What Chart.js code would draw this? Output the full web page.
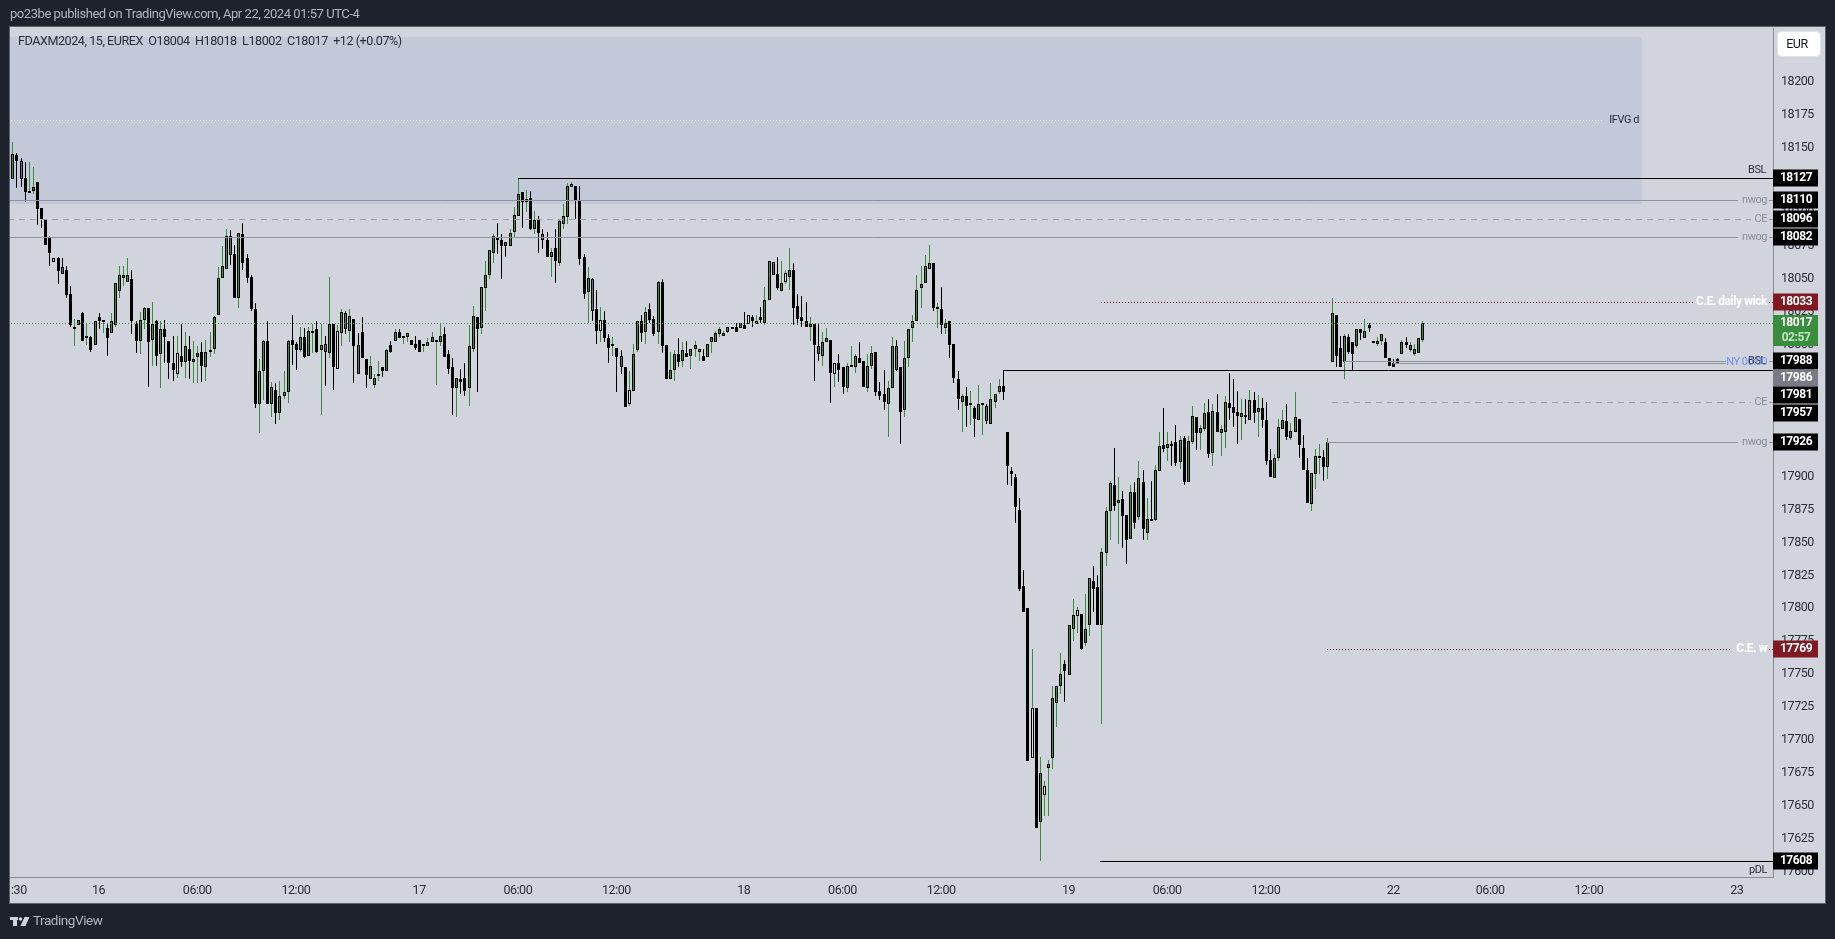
<!DOCTYPE html>
<html>
<head>
<meta charset="utf-8">
<title>FDAXM2024</title>
<style>
  html, body { margin: 0; padding: 0; background: #1e222d; overflow: hidden; }
  canvas { display: block; }
</style>
<script src="https://cdn.jsdelivr.net/npm/chart.js@4"></script>
</head>
<body>
<canvas id="priceChart" width="1835" height="939"></canvas>
<script>
// 15 minute candles
const opens = [
  18126,18144,18140,18127,18116,18117,18124,18104,18095,18082,18063,18066,18059,18057,18039,18013,18015,18024,18006,18006,
  18000,18021,18018,18013,18009,18015,18041,18051,18048,18050,18016,18003,18019,18028,18004,18018,17993,18012,18003,17986,
  17978,17992,17987,17997,17987,17991,17995,17983,17995,17997,18023,18051,18058,18083,18069,18036,18084,18066,18052,18027,
  17955,17980,18003,17955,17966,17948,17961,17964,18004,18001,17996,18006,17992,18010,18012,17996,18001,17994,18016,17982,
  18009,18024,18011,18020,18000,18010,17989,17974,17970,17977,17983,17980,18000,18003,18010,18005,18006,18004,18001,18004,
  18000,17999,18002,18002,18002,18008,17993,17983,17967,17974,17975,17967,17997,18021,18013,18043,18053,18070,18082,18080,
  18078,18075,18086,18098,18116,18109,18112,18088,18095,18084,18080,18067,18074,18062,18092,18097,18120,18121,18110,18067,
  18040,18050,18027,18011,18019,18005,18000,17998,17992,17983,17955,17965,17996,18018,18010,18027,18020,18010,18048,18000,
  17974,17981,17993,17988,17994,17992,17997,17995,17992,17991,18002,18002,18008,18007,18010,18014,18014,18013,18015,18016,
  18021,18016,18021,18017,18034,18063,18054,18041,18048,18052,18057,18030,18021,18018,18014,18016,17999,17992,18002,18004,
  17978,17986,17983,17967,17983,17983,17990,17988,17967,17984,17995,17965,17963,17955,17967,17999,17983,17951,17990,18013,
  18018,18043,18047,18058,18062,18028,18027,18013,18018,18001,17974,17957,17961,17955,17952,17943,17955,17954,17940,17957,
  17964,17969,17934,17904,17900,17875,17817,17800,17686,17724,17638,17658,17679,17686,17728,17741,17758,17749,17784,17794,
  17796,17774,17787,17821,17816,17787,17842,17874,17894,17880,17883,17871,17853,17888,17869,17896,17857,17868,17867,17904,
  17924,17922,17925,17926,17911,17929,17896,17926,17945,17933,17936,17949,17918,17949,17933,17934,17956,17953,17949,17945,
  17947,17943,17958,17949,17952,17943,17913,17899,17914,17936,17942,17929,17934,17944,17922,17905,17879,17902,17914,17915,
  17907,17987,18023,17998,17987,18006,18002,17999,18012,18005,18015,18003,18001,18003,18002,17990,17986,17989,17993,18002,
  17996,17993,17994,18004
];
const highs = [
  18154,18146,18142,18139,18139,18135,18124,18104,18095,18083,18066,18067,18066,18060,18045,18020,18019,18025,18016,18007,
  18018,18024,18019,18017,18024,18047,18060,18060,18066,18057,18018,18025,18029,18028,18033,18019,18018,18019,18003,18007,
  18007,18016,18010,18007,18003,17999,18002,18004,18010,18022,18059,18075,18088,18087,18076,18085,18093,18069,18053,18032,
  17989,18004,18018,17972,17971,17973,17980,18004,18023,18002,18014,18013,18014,18016,18018,18016,18007,18052,18016,18015,
  18027,18026,18027,18020,18009,18021,17989,17992,17978,17988,17983,17997,18003,18012,18012,18007,18009,18004,18007,18004,
  18001,18005,18010,18004,18017,18014,17996,17990,17975,17982,17986,18015,18030,18021,18044,18064,18072,18084,18093,18084,
  18078,18088,18105,18127,18116,18118,18117,18102,18098,18088,18086,18074,18088,18095,18107,18123,18124,18121,18121,18069,
  18059,18051,18042,18029,18026,18008,18006,17998,17996,17983,17980,18001,18018,18023,18029,18032,18022,18049,18050,18000,
  17995,17996,18005,18002,18003,17997,18003,17997,17997,18001,18006,18011,18014,18011,18014,18014,18017,18017,18025,18023,
  18023,18023,18029,18044,18064,18063,18067,18064,18057,18074,18062,18039,18037,18033,18021,18016,18017,18010,18013,18004,
  17986,17993,17983,17986,17999,17993,18002,17988,17993,17999,17995,17972,17981,17973,18006,18004,17983,18003,18012,18023,
  18053,18060,18068,18076,18062,18032,18044,18020,18018,18001,17980,17963,17968,17965,17954,17970,17956,17955,17971,17963,
  17974,17981,17934,17907,17902,17884,17829,17800,17769,17724,17687,17669,17685,17741,17741,17766,17761,17787,17807,17801,
  17796,17811,17823,17832,17825,17846,17877,17897,17922,17900,17889,17871,17894,17896,17912,17905,17884,17897,17909,17934,
  17952,17934,17927,17939,17931,17931,17931,17954,17945,17939,17956,17959,17955,17963,17939,17961,17979,17974,17965,17959,
  17959,17966,17964,17962,17960,17957,17921,17917,17944,17951,17955,17941,17964,17944,17932,17914,17903,17921,17925,17920,
  17929,18036,18023,18007,18008,18008,18002,18012,18012,18020,18017,18003,18006,18008,18005,17990,17989,17990,18004,18006,
  18002,18001,18005,18018
];
const lows = [
  18126,18119,18120,18109,18116,18115,18091,18089,18076,18060,18063,18046,18054,18036,18014,17999,18015,18003,18000,17995,
  18000,18012,18009,17992,18009,18014,18036,18045,18048,18008,17994,17993,18012,17968,17984,17984,17967,17986,17974,17973,
  17975,17983,17975,17974,17971,17971,17972,17973,17991,17993,18023,18051,18058,18061,18036,18028,18057,18047,18026,17952,
  17933,17958,17955,17945,17940,17943,17959,17956,17985,17981,17995,17990,17992,17994,17994,17947,17969,17990,17966,17982,
  17999,18008,18002,17971,17978,17990,17967,17974,17967,17973,17976,17980,17994,18003,18005,18001,18002,18000,17996,17995,
  17995,17999,18002,17970,17999,17991,17978,17947,17945,17963,17961,17954,17995,17964,18008,18026,18050,18062,18069,18050,
  18067,18075,18082,18098,18089,18101,18087,18084,18070,18073,18067,18052,18047,18060,18088,18092,18120,18096,18061,18035,
  18017,18018,18001,18002,18002,17986,17992,17964,17978,17953,17954,17965,17995,18002,18001,18017,18007,18001,17994,17974,
  17974,17973,17983,17983,17991,17982,17991,17988,17988,17991,17994,18002,18006,18007,18009,18013,18010,18013,18012,18016,
  18014,18016,18017,18015,18034,18053,18042,18041,18046,18042,18015,18015,18014,18014,18003,17973,17988,17984,18002,17956,
  17968,17972,17963,17964,17983,17979,17986,17968,17964,17982,17961,17958,17951,17930,17967,17980,17925,17945,17983,18002,
  18018,18028,18047,18058,18026,18013,18008,18008,17990,17971,17951,17934,17938,17939,17930,17943,17932,17940,17940,17952,
  17963,17958,17894,17893,17865,17813,17797,17684,17686,17633,17608,17642,17642,17678,17710,17735,17729,17749,17775,17781,
  17768,17771,17779,17797,17787,17712,17832,17852,17874,17849,17846,17834,17853,17860,17867,17852,17852,17866,17866,17904,
  17919,17912,17908,17908,17906,17894,17896,17925,17920,17920,17935,17914,17908,17934,17916,17922,17943,17938,17925,17928,
  17940,17943,17941,17930,17937,17909,17900,17899,17912,17936,17928,17928,17934,17914,17905,17880,17874,17891,17902,17897,
  17898,17987,17983,17983,17974,17993,17981,17998,18004,18005,18010,18002,17999,18000,17990,17984,17983,17986,17993,17998,
  17995,17992,17994,18002
];
const closes = [
  18145,18140,18126,18116,18117,18120,18103,18096,18076,18070,18066,18056,18054,18038,18015,18014,18019,18003,18007,17996,
  18018,18018,18019,18005,18018,18047,18053,18053,18053,18018,18003,18019,18028,18002,18016,17992,18012,18006,17986,17981,
  17994,17987,17999,17988,17989,17994,17984,17995,17996,18021,18051,18060,18083,18068,18036,18085,18062,18051,18027,17955,
  17980,18003,17955,17968,17948,17961,17964,18003,18000,17996,18006,17991,18011,18011,17995,18000,17995,18016,17983,18011,
  18025,18012,18022,17999,17978,17990,17977,17984,17975,17978,17980,17996,17995,18010,18005,18007,18009,18000,17998,17995,
  18001,18002,18006,18004,18007,17991,17982,17967,17975,17972,17965,17999,18022,18012,18044,18053,18072,18083,18080,18075,
  18075,18085,18099,18115,18109,18111,18088,18095,18085,18080,18067,18071,18064,18094,18098,18121,18122,18110,18065,18039,
  18051,18026,18011,18019,18005,17998,18001,17991,17983,17953,17966,17993,18018,18009,18025,18019,18008,18048,17999,17974,
  17981,17993,17987,17996,17991,17997,18000,17997,17988,18001,18006,18009,18012,18009,18014,18013,18010,18017,18012,18023,
  18018,18018,18019,18034,18064,18053,18043,18047,18055,18057,18028,18020,18018,18014,18016,18000,17993,18002,18005,17979,
  17986,17981,17968,17984,17985,17992,17986,17968,17984,17994,17964,17961,17957,17967,17999,17981,17949,17990,18012,18018,
  18042,18046,18060,18062,18028,18029,18015,18017,18000,17975,17959,17961,17954,17956,17944,17955,17956,17942,17959,17963,
  17969,17964,17908,17902,17877,17815,17797,17684,17724,17633,17675,17665,17682,17732,17741,17750,17752,17787,17795,17799,
  17769,17784,17823,17815,17787,17843,17874,17895,17878,17882,17870,17852,17888,17865,17899,17860,17868,17866,17905,17923,
  17921,17925,17923,17910,17928,17896,17927,17946,17933,17937,17948,17917,17950,17934,17936,17957,17952,17948,17946,17948,
  17945,17958,17948,17952,17943,17912,17900,17914,17938,17943,17930,17935,17945,17924,17905,17880,17903,17916,17916,17907,
  17926,18024,17992,17983,18007,17995,17993,18012,18009,18011,18013,18002,18003,18008,17990,17984,17983,17986,18002,18000,
  18000,17997,18005,18017
];
const greyBars = [2,12,53,76,81,84,120,129,141,148,185,196,215,237];
const paleBars = [10,40,79,143,150,179,188,200,248,251,259];

const xTickSlots = [1.6,21,45,69,99,123,147,178,202,226,257,281,305,336,359.6,383.6,419.6];
const xTickLabels = [':30','16','06:00','12:00','17','06:00','12:00','18','06:00','12:00','19','06:00','12:00','22','06:00','12:00','23'];

// level lines drawn on the chart: price, first and last candle slot
const levelPrices = [18171,18127,18110,18096,18082,18033,18017,17988,17986,17981,17957,17926,17769,17608];
const levelStarts = [-1,123,-1,-1,-1,265,-1,324,336,241,321,320,320,264.6];
const levelEnds = [387,429,420,423,420,409,429,417,417,429,423,420,418,429];
const levelColors = ['#ffffff','#000000','#8f929e','#9a9da8','#8f929e','#801922','#388e3c','#8f929e','#8f929e','#000000','#9a9da8','#8f929e','#801922','#000000'];
const levelKinds = ['dot','solid','solid','dash','solid','dot','dot','solid','solid','solid','dash','solid','dot','solid'];
const levelTicks = [false,false,true,true,true,true,false,true,false,false,true,true,true,false];

const labelTexts = ['IFVG d','BSL','nwog','CE','nwog','C.E. daily wick','BSL','NY 00:00','CE','nwog','C.E. w','pDL'];
const labelPrices = [18171,18127,18110,18096,18082,18033,17988,17986,17957,17926,17769,17608];
const labelRight = [1639,1766,1767,1767,1767,1767,1766,1767,1767,1767,1767,1767];
const labelShift = [0,-8,0,0,0,0,0,-1,0,0,0,9];
const labelColors = ['#2a2e39','#2a2e39','#8a8d99','#8a8d99','#8a8d99','#ffffff','#2a2e39','#6f8ff0','#8a8d99','#8a8d99','#ffffff','#2a2e39'];

// price boxes on the right axis, some are pushed down so they do not overlap
const boxPrices = [18127,18110,18096,18082,18033,17988,17986,17981,17957,17926,17769,17608];
const boxShift = [0,0,0,0,0,0,15,25,11,0,0,0];
const boxColors = ['#000000','#000000','#000000','#000000','#801922','#000000','#787b86','#000000','#000000','#000000','#801922','#000000'];

const lastPrice = 18017;
const countdown = '02:57';
const zoneHigh = 18234;
const zoneLow = 18107;
const zoneEnd = 396.5;

const TITLE = 'po23be published on TradingView.com, Apr 22, 2024 01:57 UTC-4';
const LEGEND = 'FDAXM2024, 15, EUREX  O18004  H18018  L18002  C18017  +12 (+0.07%)';
const GREEN = '#388e3c';
const PANEL = '#d1d4dc';
const FONT = 'Roboto, sans-serif';

const slotOf = (list) => list.map((value, i) => ({ x: i, y: value }));

const wickData = slotOf(highs).map((p, i) => ({ x: i, y: [lows[i], highs[i]] }));
const bodyData = slotOf(opens).map((p, i) => ({ x: i, y: [opens[i], closes[i]] }));

const isUp = (i) => closes[i] >= opens[i];

const bodyColor = (i) => {
    if (greyBars.includes(i)) return '#6b6e78';
    if (paleBars.includes(i)) return '#dfe3dc';
    return isUp(i) ? GREEN : '#000000';
};

const dashFor = (kind) => {
    if (kind === 'dot') return [1, 2];
    if (kind === 'dash') return [6, 5];
    return [];
};

const levelDatasets = levelPrices.map((price, i) => {
    const points = [{ x: levelStarts[i], y: price }, { x: levelEnds[i], y: price }];
    if (levelTicks[i]) {
        points.push({ x: levelEnds[i] + 0.5, y: null }, { x: 427.4, y: price }, { x: 429, y: price });
    }
    return {
        type: 'line',
        data: points,
        borderColor: levelColors[i],
        borderWidth: 1,
        borderDash: dashFor(levelKinds[i]),
        pointRadius: 0,
        spanGaps: false,
        order: 1
    };
});

// snaps candles and lines to whole pixels, the way the original is drawn
const pixelSnap = {
    id: 'pixelSnap',
    afterDatasetsUpdate(chart) {
        chart.data.datasets.forEach((set, d) => {
            const meta = chart.getDatasetMeta(d);
            meta.data.forEach((el) => {
                if (set.type === 'line') {
                    el.x = Math.round(el.x);
                    el.y = Math.round(el.y) + 0.5;
                    return;
                }
                el.x = Math.round(el.x) + 0.5;
                el.y = Math.round(el.y);
                el.base = Math.round(el.base);
                if (d === 1 && Math.abs(el.y - el.base) < 2) el.base = el.y + 2;
                if (d === 0 && Math.abs(el.y - el.base) < 1) el.base = el.y + 1;
            });
        });
    }
};

const drawLogo = (ctx) => {
    ctx.fillStyle = '#d1d4dc';
    ctx.fillRect(10, 917, 8, 3);
    ctx.fillRect(13, 917, 4, 9);
    ctx.beginPath();
    ctx.arc(20.5, 919, 1.8, 0, Math.PI * 2);
    ctx.fill();
    ctx.beginPath();
    ctx.moveTo(24.5, 917);
    ctx.lineTo(29.5, 917);
    ctx.lineTo(25.5, 926);
    ctx.lineTo(20.5, 926);
    ctx.closePath();
    ctx.fill();
};

const decorations = {
    id: 'decorations',
    beforeDraw(chart) {
        const { ctx } = chart;
        // the original font is narrower than anything installed
        ctx.letterSpacing = '-0.45px';
        ctx.save();
        ctx.fillStyle = '#1e222d';
        ctx.fillRect(0, 0, 1835, 939);
        ctx.fillStyle = PANEL;
        ctx.fillRect(10, 27, 1815, 876);
        ctx.strokeStyle = '#5f626d';
        ctx.lineWidth = 1;
        ctx.strokeRect(9.5, 26.5, 1816, 877);
        ctx.fillStyle = '#b2b5be';
        ctx.font = '13px ' + FONT;
        ctx.textBaseline = 'middle';
        ctx.textAlign = 'left';
        ctx.fillText(TITLE, 10, 15);
        ctx.font = '13.5px ' + FONT;
        ctx.fillText('TradingView', 33, 922);
        drawLogo(ctx);
        ctx.restore();
    },
    beforeDatasetsDraw(chart) {
        const { ctx, scales } = chart;
        const x0 = scales.x.getPixelForValue(-1);
        const x1 = scales.x.getPixelForValue(zoneEnd);
        const y0 = scales.y.getPixelForValue(zoneHigh);
        const y1 = scales.y.getPixelForValue(zoneLow);
        ctx.save();
        ctx.beginPath();
        ctx.rect(chart.chartArea.left, chart.chartArea.top, chart.chartArea.width, chart.chartArea.height);
        ctx.clip();
        ctx.fillStyle = '#c3c9d8';
        ctx.fillRect(x0, Math.round(y0), x1 - x0, Math.round(y1) - Math.round(y0));
        ctx.restore();
    },
    afterDraw(chart) {
        const { ctx, scales } = chart;
        const axisX = chart.chartArea.right;
        ctx.save();
        ctx.textBaseline = 'middle';

        ctx.fillStyle = '#2a2e39';
        ctx.textAlign = 'left';
        ctx.font = '12.6px ' + FONT;
        ctx.fillText(LEGEND, 18, 42);

        labelTexts.forEach((text, i) => {
            const isWhite = labelColors[i] === '#ffffff';
            ctx.fillStyle = labelColors[i];
            ctx.textAlign = 'right';
            ctx.font = (isWhite ? 'bold 12px ' : '11px ') + FONT;
            ctx.fillText(text, labelRight[i], Math.round(scales.y.getPixelForValue(labelPrices[i])) + labelShift[i]);
        });

        // current price box with countdown
        const lastY = Math.round(scales.y.getPixelForValue(lastPrice));
        ctx.fillStyle = GREEN;
        ctx.fillRect(axisX, lastY - 8, 45, 31);
        ctx.textAlign = 'center';
        ctx.font = 'bold 12px ' + FONT;
        ctx.fillStyle = '#ffffff';
        ctx.fillText(String(lastPrice), axisX + 23, lastY);
        ctx.fillStyle = '#c4e3c6';
        ctx.fillText(countdown, axisX + 23, lastY + 15);

        boxPrices.forEach((price, i) => {
            const y = Math.round(scales.y.getPixelForValue(price)) + boxShift[i];
            ctx.fillStyle = boxColors[i];
            ctx.fillRect(axisX, y - 8.5, 45, 17);
            ctx.fillStyle = '#ffffff';
            ctx.fillText(String(price), axisX + 23, y);
        });

        // currency button
        ctx.fillStyle = '#ffffff';
        ctx.strokeStyle = '#e0e3eb';
        ctx.beginPath();
        ctx.roundRect(1777.5, 31.5, 43, 25, 4);
        ctx.fill();
        ctx.stroke();
        ctx.fillStyle = '#131722';
        ctx.font = '12.5px ' + FONT;
        ctx.fillText('EUR', 1797, 44.5);
        ctx.restore();
    }
};

const priceChart = new Chart(document.getElementById('priceChart'), {
    data: {
        datasets: [
            {
                type: 'bar',
                data: wickData,
                grouped: false,
                barThickness: 1,
                borderWidth: 0,
                inflateAmount: 0,
                backgroundColor: (c) => (isUp(c.dataIndex) ? GREEN : '#000000'),
                order: 3
            },
            {
                type: 'bar',
                data: bodyData,
                grouped: false,
                barThickness: 3,
                borderWidth: 1,
                borderSkipped: false,
                inflateAmount: 0,
                borderColor: '#000000',
                backgroundColor: (c) => bodyColor(c.dataIndex),
                order: 2
            },
            ...levelDatasets
        ]
    },
    options: {
        responsive: false,
        animation: false,
        devicePixelRatio: 1,
        layout: { padding: { left: 10, top: 28, right: 10, bottom: 36 } },
        plugins: { legend: { display: false }, tooltip: { enabled: false } },
        scales: {
            x: {
                type: 'linear',
                min: -0.56,
                max: 428.4,
                offset: false,
                grid: { display: false, drawTicks: false },
                border: { display: true, color: '#8a8d96' },
                afterBuildTicks: (scale) => {
                    scale.ticks = xTickSlots.map((value) => ({ value }));
                },
                afterFit: (scale) => {
                    scale.height = 26;
                },
                ticks: {
                    autoSkip: false,
                    maxRotation: 0,
                    padding: 6,
                    color: '#2a2e39',
                    font: { family: FONT, size: 12.5 },
                    callback: (value) => xTickLabels[xTickSlots.indexOf(value)]
                }
            },
            y: {
                type: 'linear',
                position: 'right',
                min: 17595.9,
                max: 18240.8,
                grid: { display: false, drawTicks: false },
                border: { display: true, color: '#8a8d96' },
                afterFit: (scale) => {
                    scale.width = 52;
                },
                ticks: {
                    stepSize: 25,
                    includeBounds: false,
                    autoSkip: false,
                    padding: 8,
                    color: '#2a2e39',
                    font: { family: FONT, size: 12.5 },
                    callback: (value) => String(value)
                }
            }
        }
    },
    plugins: [pixelSnap, decorations]
});
</script>
</body>
</html>
